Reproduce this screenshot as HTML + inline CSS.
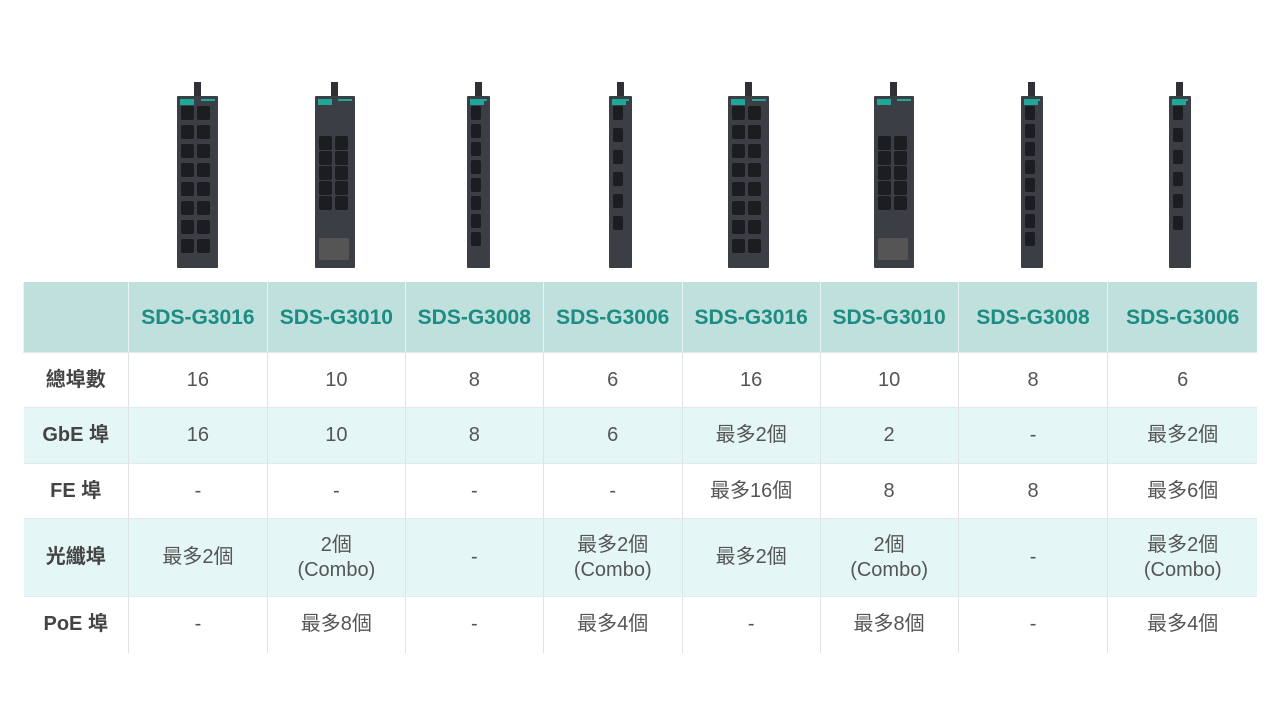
<!DOCTYPE html>
<html><head><meta charset="utf-8"><style>
body{margin:0;width:1280px;height:718px;background:#fff;position:relative;overflow:hidden;font-family:"Liberation Sans Narrow","Liberation Sans","Noto Sans CJK TC",sans-serif}
.sw{position:absolute;background:#3b3e45;border-radius:1px}
.sw .ant{position:absolute;top:-14px;width:7px;height:14px;background:#2f3136;left:50%;margin-left:-4px}
.sw .lg{position:absolute;top:3px;left:3px;width:14px;height:6px;background:#1fa89a}
.sw .ln{position:absolute;top:3px;right:3px;width:14px;height:2px;background:#1fa89a}
.p{position:absolute;background:#1c1d21;border-radius:2px}
table{position:absolute;left:23px;top:282px;border-collapse:collapse;width:1234px}
td{text-align:center;border-left:1px solid #dde3e6;border-bottom:1px solid #e3e9ea;color:#555;font-size:20px;padding:0;line-height:25px}
td:first-child{border-left:none;font-weight:bold;color:#444}
tr.h td{background:#bfe0dc;color:#1d8c82;font-weight:bold;font-size:21px;height:70px;border-left:1px solid #e8f3f2}
tr.a td{background:#e4f6f5}
</style></head><body>
<div id="sws"></div>
<table>
<colgroup><col style="width:105px"><col style="width:139px"><col style="width:138px"><col style="width:138px"><col style="width:139px"><col style="width:138px"><col style="width:138px"><col style="width:150px"><col style="width:149px"></colgroup>
<tr class="h"><td></td><td>SDS-G3016</td><td>SDS-G3010</td><td>SDS-G3008</td><td>SDS-G3006</td><td>SDS-G3016</td><td>SDS-G3010</td><td>SDS-G3008</td><td>SDS-G3006</td></tr>
<tr style="height:55px"><td>總埠數</td><td>16</td><td>10</td><td>8</td><td>6</td><td>16</td><td>10</td><td>8</td><td>6</td></tr>
<tr class="a" style="height:56px"><td>GbE 埠</td><td>16</td><td>10</td><td>8</td><td>6</td><td>最多2個</td><td>2</td><td>-</td><td>最多2個</td></tr>
<tr style="height:55px"><td>FE 埠</td><td>-</td><td>-</td><td>-</td><td>-</td><td>最多16個</td><td>8</td><td>8</td><td>最多6個</td></tr>
<tr class="a" style="height:78px"><td>光纖埠</td><td>最多2個</td><td>2個<br>(Combo)</td><td>-</td><td>最多2個<br>(Combo)</td><td>最多2個</td><td>2個<br>(Combo)</td><td>-</td><td>最多2個<br>(Combo)</td></tr>
<tr style="height:56px"><td style="border-bottom:none">PoE 埠</td><td style="border-bottom:none">-</td><td style="border-bottom:none">最多8個</td><td style="border-bottom:none">-</td><td style="border-bottom:none">最多4個</td><td style="border-bottom:none">-</td><td style="border-bottom:none">最多8個</td><td style="border-bottom:none">-</td><td style="border-bottom:none">最多4個</td></tr>
</table>
<script>
var d=[[177,41,16],[315,40,10],[467,23,8],[609,23,6],[728,41,16],[874,40,10],[1021,22,8],[1169,22,6]];
var h='';
d.forEach(function(s){
 var x=s[0],w=s[1],n=s[2],top=96,bot=268;
 var inner='<div class="ant"></div><div class="lg"></div><div class="ln"></div>';
 var cols=w>30?2:1, rows=n==16?8:(n==10?5:n);
 var pw=w>30?13:10, ph=14, y0=n==10?40:10, gap=(n==10?15:19);
 if(w<30){gap=n==8?18:22;}
 for(var r=0;r<rows;r++)for(var c=0;c<cols;c++){
  inner+='<div class="p" style="left:'+(cols==2?(4+c*16):4)+'px;top:'+(y0+r*gap)+'px;width:'+pw+'px;height:'+ph+'px"></div>';
 }
 if(n==10)inner+='<div class="p" style="left:4px;top:142px;width:30px;height:22px;background:#555"></div>';
 h+='<div class="sw" style="left:'+x+'px;top:'+top+'px;width:'+w+'px;height:'+(bot-top)+'px">'+inner+'</div>';
});
document.getElementById('sws').innerHTML=h;
</script>
</body></html>
